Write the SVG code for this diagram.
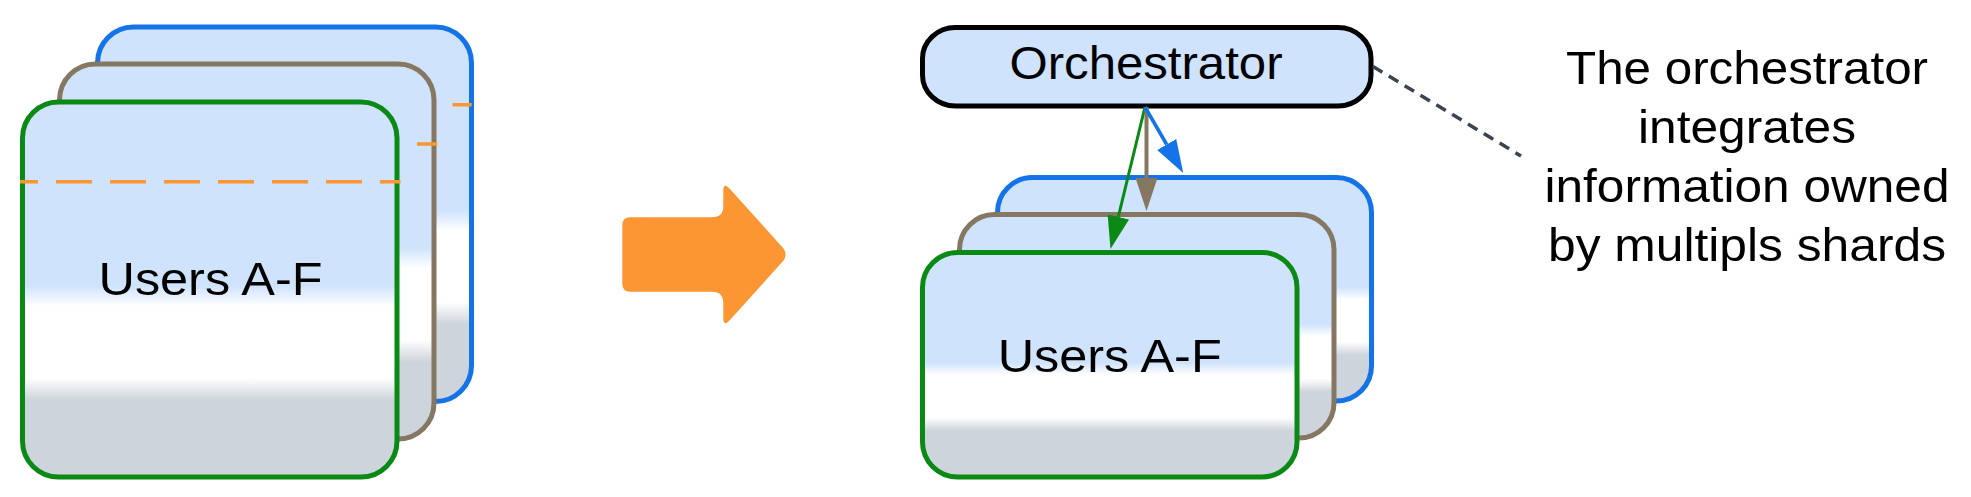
<svg xmlns="http://www.w3.org/2000/svg" width="1971" height="497" viewBox="0 0 1971 497">
<style>
  .card { stroke-width: 5; fill: url(#glass); }
  .c-blue { stroke: #1473e6; }
  .c-brown { stroke: #857761; }
  .c-green { stroke: #0a8a15; }
  .split { stroke: #fc9632; stroke-width: 3.5; stroke-dasharray: 36 18; stroke-dashoffset: 18; fill: none; }
  .label { font-family: "Liberation Sans", Arial, sans-serif; font-size: 46px; fill: #000; text-anchor: middle; }
  .note { font-size: 47px; }
  .edge { fill: none; }
</style>
<defs>
  <linearGradient id="glass" x1="0" y1="0" x2="0" y2="1">
    <stop offset="0" stop-color="#cfe3fc"/>
    <stop offset="0.49" stop-color="#cfe3fc"/>
    <stop offset="0.545" stop-color="#ffffff"/>
    <stop offset="0.735" stop-color="#ffffff"/>
    <stop offset="0.795" stop-color="#cdd4dc"/>
    <stop offset="1" stop-color="#cdd4dc"/>
  </linearGradient>
  <marker id="head-green" markerUnits="userSpaceOnUse" markerWidth="33" markerHeight="22" viewBox="0 0 33 22" refX="0" refY="11" orient="auto">
    <path d="M0,0 L33,11 L0,22 Z" fill="#0a8a15"/>
  </marker>
  <marker id="head-brown" markerUnits="userSpaceOnUse" markerWidth="33" markerHeight="22" viewBox="0 0 33 22" refX="0" refY="11" orient="auto">
    <path d="M0,0 L33,11 L0,22 Z" fill="#857761"/>
  </marker>
  <marker id="head-blue" markerUnits="userSpaceOnUse" markerWidth="33" markerHeight="22" viewBox="0 0 33 22" refX="0" refY="11" orient="auto">
    <path d="M0,0 L33,11 L0,22 Z" fill="#1473e6"/>
  </marker>
</defs>

<g id="left-shard-blue">
  <rect class="card c-blue" x="97.5" y="27" width="374" height="374.5" rx="36" ry="36"/>
  <line class="split" x1="92.5" y1="104.7" x2="471.7" y2="104.7"/>
</g>
<g id="left-shard-brown">
  <rect class="card c-brown" x="59.5" y="64" width="374.5" height="375" rx="36" ry="36"/>
  <line class="split" x1="57" y1="144" x2="437.3" y2="144"/>
</g>
<g id="left-shard-green">
  <rect class="card c-green" x="22.5" y="102" width="374.5" height="375" rx="36" ry="36"/>
  <line class="split" x1="20" y1="181.7" x2="400.5" y2="181.7"/>
  <text class="label" x="210.5" y="295" textLength="224" lengthAdjust="spacingAndGlyphs">Users A-F</text>
</g>

<g id="transition-arrow">
  <path d="M630.3,217.3 L712,217.3 Q723.3,217.3 723.3,206 L723.3,191 Q723.3,182 729.5,188.5 L783.5,248.5 Q787.5,254.5 783.5,260.5 L729.5,320.5 Q723.3,327 723.3,318 L723.3,303 Q723.3,291.7 712,291.7 L630.3,291.7 Q622.3,291.7 622.3,283.7 L622.3,225.3 Q622.3,217.3 630.3,217.3 Z" fill="#fc9632"/>
</g>

<g id="right-shard-blue">
  <rect class="card c-blue" x="997.5" y="177.5" width="374" height="223.5" rx="35" ry="35"/>
</g>
<g id="right-shard-brown">
  <rect class="card c-brown" x="959.5" y="214.5" width="374.5" height="223.5" rx="35" ry="35"/>
</g>
<g id="right-shard-green">
  <rect class="card c-green" x="922.5" y="252.5" width="374.5" height="224.5" rx="35" ry="35"/>
  <text class="label" x="1109.7" y="371.7" textLength="224" lengthAdjust="spacingAndGlyphs">Users A-F</text>
</g>

<g id="orchestrator">
  <rect x="922.5" y="27.5" width="448.5" height="78.5" rx="33" ry="31" fill="#cfe3fc" stroke="#000" stroke-width="5"/>
  <text class="label" x="1146" y="79.3" textLength="273" lengthAdjust="spacingAndGlyphs">Orchestrator</text>
</g>

<g id="note">
  <text class="label note" x="1747" y="84" textLength="362" lengthAdjust="spacingAndGlyphs">The orchestrator</text>
  <text class="label note" x="1747" y="143" textLength="218" lengthAdjust="spacingAndGlyphs">integrates</text>
  <text class="label note" x="1747" y="202" textLength="405" lengthAdjust="spacingAndGlyphs">information owned</text>
  <text class="label note" x="1747" y="261" textLength="398" lengthAdjust="spacingAndGlyphs">by multipls shards</text>
</g>

<g id="connectors">
  <line class="edge" x1="1373" y1="66.5" x2="1521" y2="156" stroke="#3b4250" stroke-width="3.5" stroke-dasharray="11 7.5"/>
  <line class="edge" x1="1145" y1="107" x2="1118.3" y2="216.9" stroke="#0a8a15" stroke-width="3" marker-end="url(#head-green)"/>
  <line class="edge" x1="1146.5" y1="107" x2="1146.5" y2="178" stroke="#857761" stroke-width="4" marker-end="url(#head-brown)"/>
  <line class="edge" x1="1145" y1="107" x2="1166.7" y2="144.5" stroke="#1473e6" stroke-width="3.5" marker-end="url(#head-blue)"/>
</g>
</svg>
